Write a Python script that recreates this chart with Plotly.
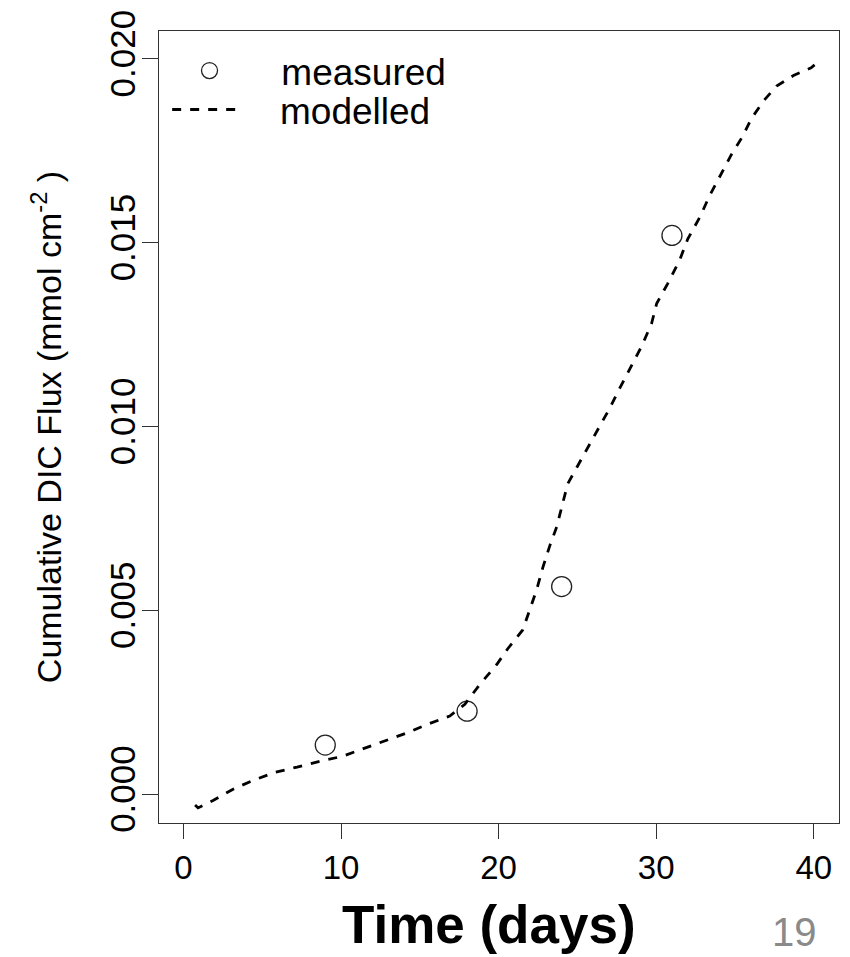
import plotly.graph_objects as go

# measured data
x_meas = [9, 18, 24, 31]
y_meas = [0.00134, 0.00226, 0.00565, 0.01520]

# modelled curve
x_model = [0.74, 0.93, 1.88, 3.15, 4.42, 5.81, 7.21, 8.66, 10.06, 11.39, 12.78, 14.18,
           15.51, 16.90, 17.86, 18.81, 19.88, 20.58, 21.53, 21.97, 22.42, 22.80, 23.24,
           23.69, 24.00, 24.38, 24.96, 25.65, 26.41, 27.05, 27.68, 28.44, 29.08, 29.71,
           30.03, 30.73, 31.49, 32.00, 32.76, 33.39, 34.13, 34.76, 35.48, 36.03, 36.81,
           37.64, 38.71, 39.83, 40.05]
y_model = [-0.00029, -0.00037, -0.00017, 0.00014, 0.00038, 0.00060, 0.00074, 0.00090,
           0.00103, 0.00124, 0.00146, 0.00167, 0.00191, 0.00213, 0.00245, 0.00299,
           0.00353, 0.00396, 0.00447, 0.00501, 0.00557, 0.00616, 0.00675, 0.00728,
           0.00782, 0.00844, 0.00889, 0.00943, 0.00999, 0.01050, 0.01104, 0.01166,
           0.01219, 0.01281, 0.01335, 0.01389, 0.01453, 0.01510, 0.01569, 0.01628,
           0.01689, 0.01739, 0.01789, 0.01837, 0.01886, 0.01926, 0.01955, 0.01976,
           0.01984]

x_ticks = [0, 10, 20, 30, 40]
y_ticks = [0.000, 0.005, 0.010, 0.015, 0.020]
y_tick_labels = ["0.000", "0.005", "0.010", "0.015", "0.020"]

FONT = "Liberation Sans, Arial, sans-serif"
NB = "\u00a0\u00a0\u00a0"

fig = go.Figure()
fig.add_trace(go.Scatter(
    x=x_meas, y=y_meas, mode="markers", name=NB + "measured", legend="legend",
    marker=dict(symbol="circle-open", size=20, color="#222222", line=dict(width=1.3, color="#222222")),
))
fig.add_trace(go.Scatter(
    x=x_model, y=y_model, mode="lines", name=NB + "modelled", legend="legend2",
    line=dict(color="black", width=2.8, dash="9px,9px"),
))

axis_font = dict(family=FONT, size=33, color="black")
leg_common = dict(xanchor="left", yanchor="middle", bgcolor="rgba(0,0,0,0)",
                  font=dict(size=37, family=FONT, color="black"), itemwidth=72)

fig.update_layout(
    width=850, height=957,
    margin=dict(l=159, r=10, t=21, b=134),
    paper_bgcolor="white", plot_bgcolor="white",
    font=dict(family=FONT, color="black"),
    showlegend=True,
    legend=dict(x=0.014, y=0.9495, **leg_common),
    legend2=dict(x=0.012, y=0.9003, **leg_common),
    xaxis=dict(range=[-1.55, 41.6], tickvals=x_ticks, ticks="outside", ticklen=15,
               tickwidth=1.3, tickcolor="#333333", showline=True, linecolor="#333333",
               linewidth=1.3, mirror=True, showgrid=False, zeroline=False,
               tickfont=axis_font),
    yaxis=dict(range=[-0.00078, 0.02076], tickvals=y_ticks, ticktext=y_tick_labels,
               ticks="outside", ticklen=16, tickwidth=1.3, tickcolor="#333333",
               showline=True, linecolor="#333333", linewidth=1.3, mirror=True,
               showgrid=False, zeroline=False, tickangle=-90,
               tickfont=dict(family=FONT, size=35, color="black"),
               ticklabelstandoff=-7,
               title=dict(text="Cumulative DIC Flux (mmol cm<sup>-2</sup> )",
                          font=dict(size=34, family=FONT),
                          standoff=30)),
    annotations=[
        dict(text="<b>Time (days)</b>", xref="paper", yref="paper", x=0.485, y=-0.088,
             xanchor="center", yanchor="top", showarrow=False,
             font=dict(size=53, family=FONT, color="black")),
        dict(text="19", xref="paper", yref="paper", x=0.935, y=-0.107,
             xanchor="center", yanchor="top", showarrow=False,
             font=dict(size=40, family=FONT, color="#8a8a8a")),
    ],
)

fig.write_html("out.html")
